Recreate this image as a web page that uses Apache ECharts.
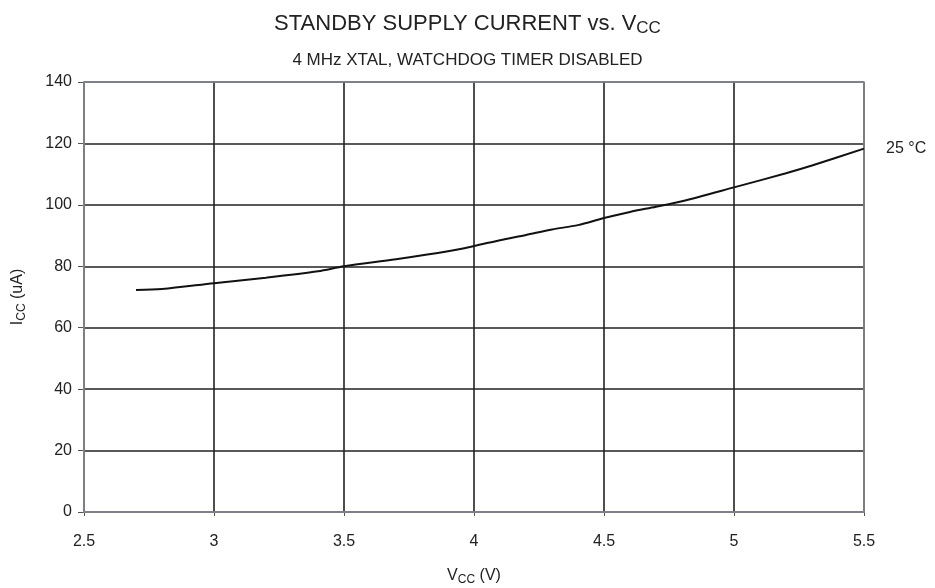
<!DOCTYPE html>
<html>
<head>
<meta charset="utf-8">
<script src="https://cdn.jsdelivr.net/npm/echarts@6/dist/echarts.min.js"></script>
<style>
  html, body { margin: 0; padding: 0; background: #fff; }
  #chart { width: 935px; height: 588px; }
</style>
</head>
<body>
<div id="chart"></div>
<script>
// Supply voltage (V) and standby current (uA) at 25 °C
const vcc = [2.7, 2.8, 3.0, 3.2, 3.4, 3.5, 3.7, 3.9, 4.0, 4.1, 4.2, 4.3, 4.4, 4.5, 4.6, 4.7, 4.8, 5.0, 5.2, 5.3, 5.5];
const icc = [72.3, 72.6, 74.5, 76.3, 78.4, 80.0, 82.3, 84.9, 86.6, 88.5, 90.2, 92.0, 93.4, 95.7, 97.7, 99.4, 101.2, 105.7, 110.3, 112.8, 118.3];
const seriesLabel = '25 °C';

const xTicks = [2.5, 3, 3.5, 4, 4.5, 5, 5.5];
const yTicks = [0, 20, 40, 60, 80, 100, 120, 140];

const font = 'Liberation Sans, Arial, sans-serif';
const ink = '#222';
const chart = echarts.init(document.getElementById('chart'));

chart.setOption({
  animation: false,
  backgroundColor: '#fff',
  title: [{
    text: 'STANDBY SUPPLY CURRENT vs. V{sub|CC}',
    left: 'center',
    top: 5,
    textStyle: {
      fontFamily: font, fontSize: 22, fontWeight: 'normal', color: ink,
      rich: { sub: { fontFamily: font, fontSize: 17, color: ink, padding: [10, 0, 0, 0] } }
    }
  }, {
    text: '4 MHz XTAL, WATCHDOG TIMER DISABLED',
    left: 'center',
    top: 47,
    textStyle: { fontFamily: font, fontSize: 17, fontWeight: 'normal', color: ink }
  }],
  grid: { left: 84, right: 71, top: 82, bottom: 76, containLabel: false, outerBoundsMode: 'none' },
  xAxis: {
    type: 'value',
    min: 2.5, max: 5.5, interval: 0.5,
    name: 'V{sub|CC} (V)',
    nameLocation: 'middle',
    nameGap: 54,
    nameTextStyle: {
      fontFamily: font, fontSize: 16, color: ink,
      rich: { sub: { fontFamily: font, fontSize: 12, color: ink, padding: [8, 0, 0, 0] } }
    },
    axisLine: { show: true, lineStyle: { color: '#555', width: 1.5 } },
    axisTick: { show: true, length: 4, lineStyle: { color: '#555' } },
    axisLabel: {
      fontFamily: font, fontSize: 16, color: ink, margin: 22,
      formatter: v => xTicks.includes(v) ? String(v) : ''
    },
    splitLine: { show: true, lineStyle: { color: ink, width: 1.6 } }
  },
  yAxis: {
    type: 'value',
    min: 0, max: 140, interval: 20,
    name: 'I{sub|CC} (uA)',
    nameLocation: 'middle',
    nameGap: 56,
    nameTextStyle: {
      fontFamily: font, fontSize: 16, color: ink,
      rich: { sub: { fontFamily: font, fontSize: 12, color: ink, padding: [8, 0, 0, 0] } }
    },
    axisLine: { show: true, lineStyle: { color: '#555', width: 1.5 } },
    axisTick: { show: true, length: 6, lineStyle: { color: '#555' } },
    axisLabel: {
      fontFamily: font, fontSize: 16, color: ink, margin: 12,
      formatter: v => yTicks.includes(v) ? String(v) : ''
    },
    splitLine: { show: true, lineStyle: { color: ink, width: 1.6 } }
  },
  graphic: [{
    type: 'rect',
    shape: { x: 84, y: 82, width: 780, height: 430 },
    style: { fill: 'none', stroke: '#8a8f96', lineWidth: 1.5 },
    silent: true, z: 5
  }],
  series: [{
    type: 'line',
    data: vcc.map((v, i) => [v, icc[i]]),
    smooth: 0.3,
    showSymbol: false,
    lineStyle: { color: '#111', width: 2 },
    endLabel: {
      show: true,
      formatter: seriesLabel,
      distance: 22,
      offset: [0, 0],
      fontFamily: font, fontSize: 16, color: ink
    },
    z: 6
  }]
});
</script>
</body>
</html>
